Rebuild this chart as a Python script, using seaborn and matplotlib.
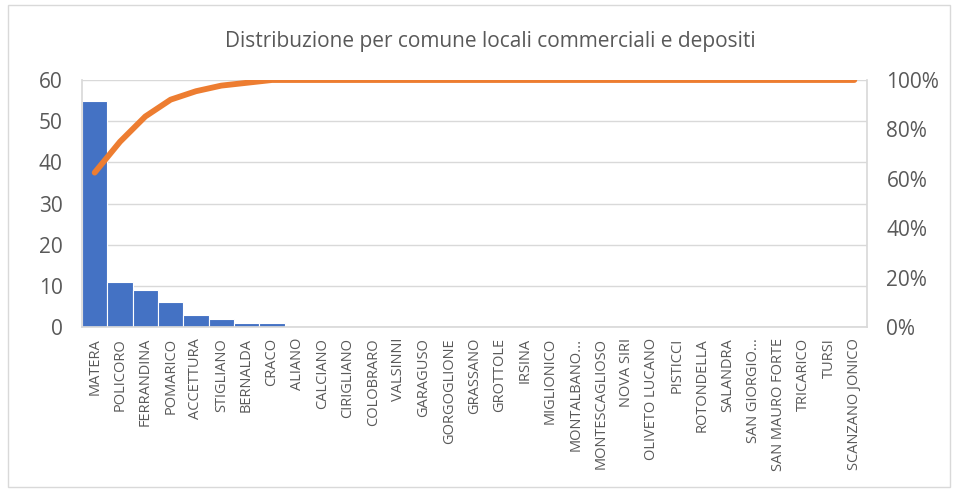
import numpy as np
import pandas as pd
import matplotlib
matplotlib.use("Agg")
import matplotlib.pyplot as plt
import seaborn as sns
from matplotlib.ticker import PercentFormatter

# dati
comuni = ["MATERA", "POLICORO", "FERRANDINA", "POMARICO", "ACCETTURA", "STIGLIANO",
          "BERNALDA", "CRACO", "ALIANO", "CALCIANO", "CIRIGLIANO", "COLOBRARO",
          "VALSINNI", "GARAGUSO", "GORGOGLIONE", "GRASSANO", "GROTTOLE", "IRSINA",
          "MIGLIONICO", "MONTALBANO...", "MONTESCAGLIOSO", "NOVA SIRI",
          "OLIVETO LUCANO", "PISTICCI", "ROTONDELLA", "SALANDRA", "SAN GIORGIO...",
          "SAN MAURO FORTE", "TRICARICO", "TURSI", "SCANZANO JONICO"]
conteggi = [55, 11, 9, 6, 3, 2, 1, 1] + [0] * 23
y_ticks = [0, 10, 20, 30, 40, 50, 60]
pct_ticks = [0, 20, 40, 60, 80, 100]

df = pd.DataFrame({"comune": comuni, "n": conteggi})
df["cum"] = df["n"].cumsum() / df["n"].sum() * 100

sns.set_theme(style="white")
plt.rcParams["font.family"] = ["Open Sans", "DejaVu Sans"]

fig = plt.figure(figsize=(9.57, 4.92), dpi=100)
ax = fig.add_axes([82 / 957, 1 - 327 / 492, 785 / 957, 247 / 492])

sns.barplot(data=df, x="comune", y="n", color="#4472C4", saturation=1,
            width=1.0, edgecolor="white", linewidth=0.8, ax=ax)
ax.set_ylim(0, 60)
ax.set_xlim(-0.5, len(comuni) - 0.5)
ax.set_yticks(y_ticks)
ax.yaxis.grid(True, color="#D9D9D9", linewidth=1)
ax.set_axisbelow(True)
ax.set_xlabel("")
ax.set_ylabel("")
ax.tick_params(axis="y", labelsize=15, labelcolor="#595959", pad=14, length=0)
ax.tick_params(axis="x", labelsize=10.5, labelcolor="#595959", rotation=90, length=0, pad=8)
ax.spines["top"].set_visible(False)
for s in ["left", "right", "bottom"]:
    ax.spines[s].set_color("#D9D9D9")

ax2 = ax.twinx()
sns.lineplot(x=np.arange(len(comuni)), y=df["cum"].values, color="#ED7D31",
             linewidth=4.2, solid_capstyle="round", ax=ax2)
ax2.set_ylim(0, 100)
ax2.set_yticks(pct_ticks)
ax2.yaxis.set_major_formatter(PercentFormatter(decimals=0))
ax2.tick_params(axis="y", labelsize=15, labelcolor="#595959", pad=14, length=0)
for s in ax2.spines.values():
    s.set_visible(False)
ax2.set_ylabel("")

fig.text(490 / 957, 1 - 42 / 492, "Distribuzione per comune locali commerciali e depositi",
         ha="center", va="center", fontsize=15, color="#595959")

# bordo esterno
fig.patches.append(plt.Rectangle((8 / 957, 5 / 492), 942 / 957, 482 / 492,
                                 transform=fig.transFigure, fill=False,
                                 edgecolor="#D9D9D9", linewidth=1))

fig.savefig("out.png", dpi=100)
